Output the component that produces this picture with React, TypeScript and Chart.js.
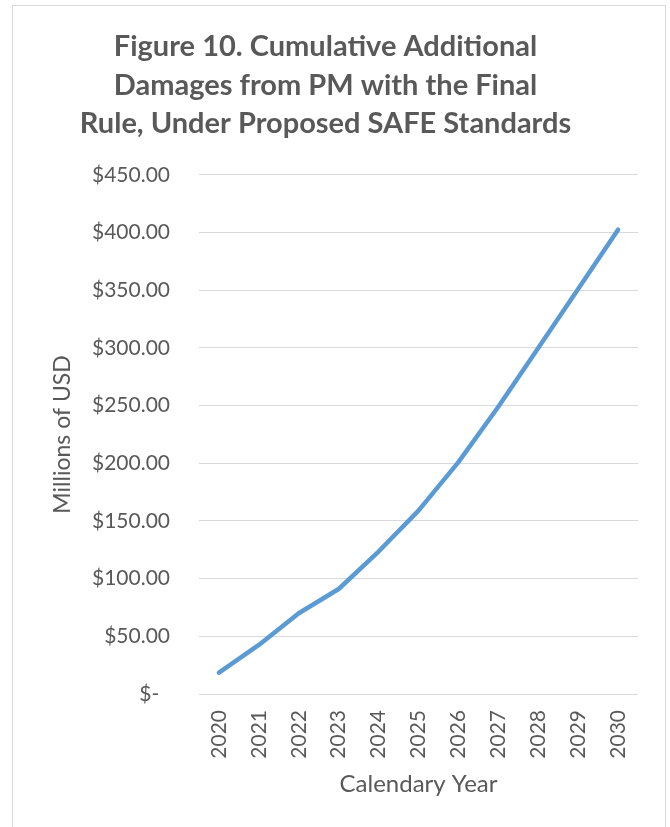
import React, { useEffect, useRef } from "react";
import { Chart, registerables } from "chart.js";

Chart.register(...registerables);

const years = ["2020", "2021", "2022", "2023", "2024", "2025", "2026", "2027", "2028", "2029", "2030"];
const damages = [18.5, 42.5, 70, 91, 123.5, 159, 201, 249, 300, 351, 402.5];
const titleLines = [
  "Figure 10. Cumulative Additional",
  "Damages from PM with the Final",
  "Rule, Under Proposed SAFE Standards",
];
const yAxisTitle = "Millions of USD";
const xAxisTitle = "Calendary Year";

const FONT = "Lato";
const TEXT = "#595959";

export default function App() {
  const ref = useRef<HTMLCanvasElement | null>(null);
  useEffect(() => {
    if (!ref.current) return;
    const chart = new Chart(ref.current, {
      type: "line",
      data: {
        labels: years,
        datasets: [
          {
            data: damages,
            borderColor: "#5B9BD5",
            backgroundColor: "#5B9BD5",
            borderWidth: 4.5,
            borderCapStyle: "round",
            borderJoinStyle: "round",
            pointRadius: 0,
            tension: 0,
          },
        ],
      },
      options: {
        animation: false,
        responsive: true,
        maintainAspectRatio: false,
        layout: { padding: { left: 0, right: 27, top: 0, bottom: 23 } },
        plugins: {
          legend: { display: false },
          tooltip: { enabled: false },
          title: {
            display: true,
            text: titleLines,
            color: TEXT,
            font: { family: FONT, size: 29, weight: "bold", lineHeight: 1.32 },
            padding: { top: 22, bottom: 32 },
          },
        },
        scales: {
          x: {
            offset: true,
            grid: { display: false, drawTicks: false },
            border: { display: false },
            ticks: {
              color: TEXT,
              font: { family: FONT, size: 21 },
              minRotation: 90,
              maxRotation: 90,
              padding: 16,
              autoSkip: false,
            },
            title: {
              display: true,
              text: xAxisTitle,
              color: TEXT,
              font: { family: FONT, size: 24 },
              padding: { top: 0, bottom: 5.6 },
            },
            afterFit: (s: any) => {
              s.height = 110;
            },
          },
          y: {
            min: 0,
            max: 450,
            grid: { color: "#d9d9d9", lineWidth: 1, drawTicks: false },
            border: { display: false },
            ticks: {
              stepSize: 50,
              color: TEXT,
              font: { family: FONT, size: 21 },
              padding: 29,
              callback: (v: any) => (Number(v) === 0 ? "$-  " : "$" + Number(v).toFixed(2)),
            },
            title: {
              display: true,
              text: yAxisTitle,
              color: TEXT,
              font: { family: FONT, size: 23 },
              padding: { top: 36, bottom: 0 },
            },
            afterFit: (s: any) => {
              s.width = 186;
            },
          },
        },
      },
    });
    return () => chart.destroy();
  }, []);
  return (
    <div
      style={{
        position: "fixed",
        left: 12,
        top: 5,
        width: 654,
        height: 840,
        border: "1px solid #d9d9d9",
        boxSizing: "border-box",
        background: "#fff",
      }}
    >
      <div style={{ position: "relative", width: 652, height: 821 }}>
        <canvas ref={ref} />
      </div>
    </div>
  );
}
